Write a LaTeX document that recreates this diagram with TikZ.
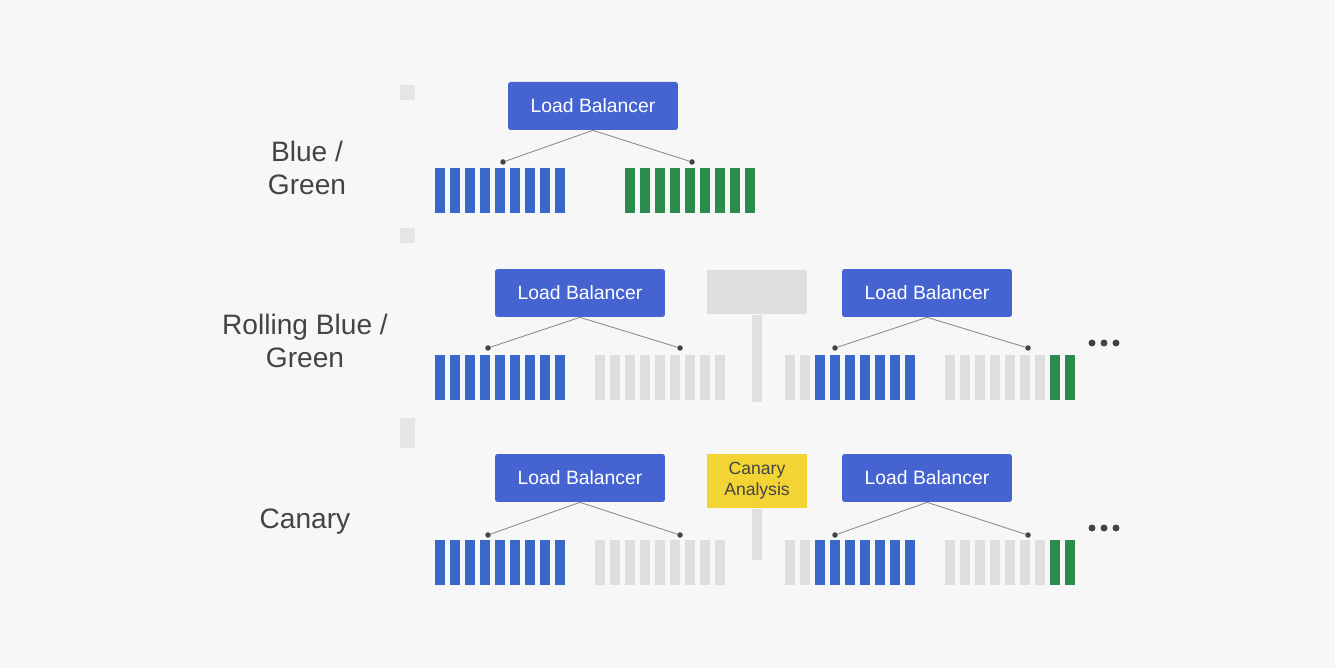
\documentclass[tikz,border=0pt]{standalone}
\usepackage{fontspec}
\setmainfont{Liberation Sans}
\usepackage{xcolor}
\usetikzlibrary{positioning}
\definecolor{bgcol}{HTML}{F7F7F7}
\definecolor{lbblue}{HTML}{4564D2}
\definecolor{srvblue}{HTML}{3A68C8}
\definecolor{srvgreen}{HTML}{2E8B4E}
\definecolor{srvgrey}{HTML}{DEDEDE}
\definecolor{labelgrey}{HTML}{444444}
\definecolor{canaryyellow}{HTML}{F2D534}

\begin{document}
\begin{tikzpicture}[x=0.02cm,y=-0.02cm,
	lb/.style={fill=lbblue, text=white, rounded corners=1.5pt, minimum width=3.4cm, minimum height=0.96cm, font=\fontsize{11}{13}\selectfont},
	rowlabel/.style={text=labelgrey, align=center, font=\fontsize{16}{19}\selectfont},
	dot/.style={circle, fill=labelgrey, inner sep=0pt, minimum size=0.11cm},
	conn/.style={draw=black!45, line width=0.5pt},
	link/.style={draw=black!12, line width=0.2cm}]
	% background
	\fill[bgcol] (0,0) rectangle (1335,668);
	\useasboundingbox (0,0) rectangle (1335,668);
	% small markers
	\fill[black!10] (400,85) rectangle (415,100);
	\fill[black!10] (400,228) rectangle (415,243);
	\fill[black!10] (400,418) rectangle (415,448);

	% row labels
	\node[rowlabel] (blugreen) at (307,168) {Blue /\\Green};
	\node[rowlabel] (rolling) at (305,341) {Rolling Blue /\\Green};
	\node[rowlabel] (canary) at (305,522) {Canary};

	% load balancers
	\node[lb] (lbtop) at (593,106) {Load Balancer};
	\node[lb] (lbrolla) at (580,293) {Load Balancer};
	\node[lb] (lbrollb) at (927,293) {Load Balancer};
	\node[lb] (lbcana) at (580,478) {Load Balancer};
	\node[lb] (lbcanb) at (927,478) {Load Balancer};
	% middle boxes
	\node[fill=black!13, minimum width=2cm, minimum height=0.9cm] (deploy) at (757,292) {};
	\node[fill=canaryyellow, text=labelgrey, align=center, minimum width=2cm, minimum height=1.1cm,
		font=\fontsize{10}{12}\selectfont] (analysis) at (757,481) {Canary\\Analysis};
	\coordinate (deployend) at (757,402);
	\coordinate (analysisend) at (757,560);
	\draw[link] (deploy.south) -- (deployend);
	\draw[link] (analysis.south) -- (analysisend);

	% servers
	\foreach \i in {0,...,8} {
		\fill[srvblue] (435+15*\i,168) rectangle ++(10,45);
		\fill[srvgreen] (625+15*\i,168) rectangle ++(10,45);
		\fill[srvblue] (435+15*\i,355) rectangle ++(10,45);
		\fill[srvgrey] (595+15*\i,355) rectangle ++(10,45);
		\fill[srvblue] (435+15*\i,540) rectangle ++(10,45);
		\fill[srvgrey] (595+15*\i,540) rectangle ++(10,45);
	}
	\foreach \y in {355,540} {
		\foreach \c [count=\i from 0] in {srvgrey,srvgrey,srvblue,srvblue,srvblue,srvblue,srvblue,srvblue,srvblue}
			\fill[\c] (785+15*\i,\y) rectangle ++(10,45);
		\foreach \c [count=\i from 0] in {srvgrey,srvgrey,srvgrey,srvgrey,srvgrey,srvgrey,srvgrey,srvgreen,srvgreen}
			\fill[\c] (945+15*\i,\y) rectangle ++(10,45);
		% more
		\foreach \k in {0,1,2}
			\fill[labelgrey] (1092+12*\k,\y-12) circle (3.5);
	}

	% dots and connectors
	\node[dot] (toppa) at (503,162) {};
	\node[dot] (toppb) at (692,162) {};
	\node[dot] (rollpa) at (488,348) {};
	\node[dot] (rollpb) at (680,348) {};
	\node[dot] (rollpc) at (835,348) {};
	\node[dot] (rollpd) at (1028,348) {};
	\node[dot] (canpa) at (488,535) {};
	\node[dot] (canpb) at (680,535) {};
	\node[dot] (canpc) at (835,535) {};
	\node[dot] (canpd) at (1028,535) {};
	\draw[conn] (lbtop.south) -- (toppa);
	\draw[conn] (lbtop.south) -- (toppb);
	\draw[conn] (lbrolla.south) -- (rollpa);
	\draw[conn] (lbrolla.south) -- (rollpb);
	\draw[conn] (lbrollb.south) -- (rollpc);
	\draw[conn] (lbrollb.south) -- (rollpd);
	\draw[conn] (lbcana.south) -- (canpa);
	\draw[conn] (lbcana.south) -- (canpb);
	\draw[conn] (lbcanb.south) -- (canpc);
	\draw[conn] (lbcanb.south) -- (canpd);
\end{tikzpicture}
\end{document}
